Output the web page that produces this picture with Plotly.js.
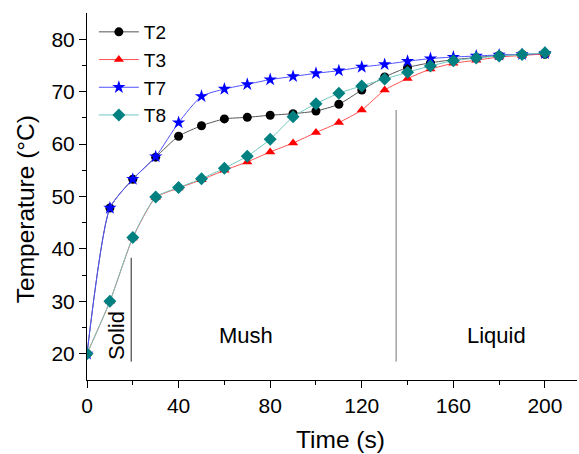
<!DOCTYPE html>
<html><head><meta charset="utf-8">
<script src="https://cdn.plot.ly/plotly-3.0.1.min.js"></script>
<style>html,body{margin:0;padding:0;background:#fff}#chart{width:579px;height:454px}</style>
</head><body><div id="chart"></div>
<script>
const time = [0,10,20,30,40,50,60,70,80,90,100,110,120,130,140,150,160,170,180,190,200];
const T2 = [20,47.8,53.3,57.5,61.5,63.5,64.8,65.1,65.5,65.8,66.3,67.6,70.3,72.8,74.6,75.5,76.1,76.5,76.9,77.1,77.1];
const T3 = [20,30,42.1,49.8,51.6,53.2,55.0,56.6,58.5,60.2,62.2,64.1,66.5,70.3,72.5,74.3,75.4,76.0,76.6,76.9,77.2];
const T7 = [20,47.8,53.3,57.6,64.1,69.1,70.5,71.4,72.3,72.9,73.5,74.0,74.7,75.2,75.8,76.3,76.6,76.8,77.0,77.1,77.3];
const T8 = [20,30,42.2,49.9,51.7,53.4,55.4,57.7,60.9,65.2,67.7,69.7,71.1,72.4,73.7,74.9,75.9,76.4,76.8,77.1,77.4];
const seriesNames = ['T2','T3','T7','T8'];
const phaseBoundaries = [19.3, 135];
const boundaryTop = [38.3, 66.5];
const boundaryBottom = 18.5;
const phaseLabels = ['Solid','Mush','Liquid'];
const phaseLabelX = [12.9, 69.4, 179];
const phaseLabelY = 23.5;
const xTitle = 'Time (s)';
const yTitle = 'Temperature (°C)';

const font = 'Liberation Sans, Arial, sans-serif';
const styles = [
  {line:'#555555', marker:{symbol:'circle', color:'#000000', size:9}},
  {line:'#ff5050', marker:{symbol:'triangle-up', color:'#ff0000', size:9}},
  {line:'#5050ff', marker:{symbol:'star', color:'#0000ff', size:10}},
  {line:'#70c8c0', marker:{symbol:'diamond', color:'#008080', size:10}}
];
const data = [T2,T3,T7,T8].map((y,i)=>({
  x: time, y: y, name: seriesNames[i], type:'scatter', mode:'lines+markers',
  line:{color:styles[i].line, width:1, shape:'spline', smoothing:0.6},
  marker:styles[i].marker
}));

const shapes = phaseBoundaries.map((b,i)=>({
  type:'line', xref:'x', yref:'y', x0:b, x1:b, y0:boundaryBottom, y1:boundaryTop[i],
  line:{color: i===0 ? '#222222' : '#777777', width:1}
}));
const annotations = phaseLabels.map((t,i)=>({
  text:t, x:phaseLabelX[i], y:phaseLabelY, xref:'x', yref:'y', showarrow:false,
  textangle: i===0 ? -90 : 0, font:{family:font, size:22, color:'#000'}
}));
annotations.push({text:xTitle, xref:'paper', yref:'paper', x:0.518, y:-0.163,
  xanchor:'center', yanchor:'middle', showarrow:false, font:{family:font, size:24.5, color:'#000'}});
annotations.push({text:yTitle, xref:'paper', yref:'paper', x:-0.124, y:0.466, textangle:-90,
  xanchor:'center', yanchor:'middle', showarrow:false, font:{family:font, size:24.5, color:'#000'}});

const layout = {
  width:579, height:454,
  margin:{l:87, r:2, t:13, b:74},
  paper_bgcolor:'#fff', plot_bgcolor:'#fff',
  font:{family:font, color:'#000'},
  showlegend:true,
  legend:{x:0.014, y:1.0, xanchor:'left', yanchor:'top', bgcolor:'rgba(0,0,0,0)',
    font:{family:font, size:19}, tracegroupgap:0, itemwidth:40},
  xaxis:{range:[0,214], tickvals:[0,40,80,120,160,200], ticks:'outside', ticklen:7, tickwidth:1,
    tickcolor:'#000', showline:true, linecolor:'#000', linewidth:1, showgrid:false, zeroline:false,
    minor:{tickvals:[20,60,100,140,180], ticks:'outside', ticklen:4, tickcolor:'#000'},
    tickfont:{family:font, size:21}},
  yaxis:{range:[15,85], tickvals:[20,30,40,50,60,70,80], ticks:'outside', ticklen:7, tickwidth:1,
    tickcolor:'#000', showline:true, linecolor:'#000', linewidth:1, showgrid:false, zeroline:false,
    minor:{tickvals:[25,35,45,55,65,75], ticks:'outside', ticklen:4, tickcolor:'#000'},
    tickfont:{family:font, size:21}},
  shapes:shapes, annotations:annotations
};
Plotly.newPlot('chart', data, layout, {displayModeBar:false, staticPlot:true});
</script></body></html>
